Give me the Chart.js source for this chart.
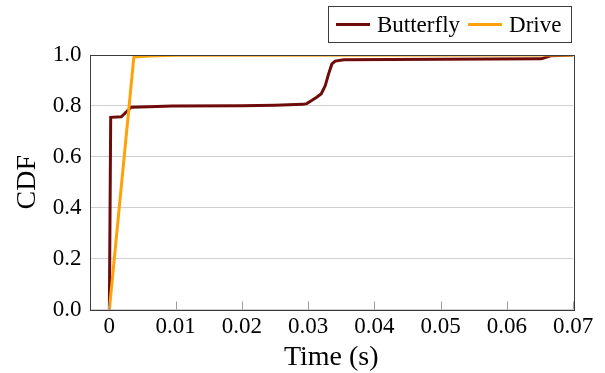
<!DOCTYPE html>
<html>
<head>
<meta charset="utf-8">
<script src="https://cdn.jsdelivr.net/npm/chart.js@4"></script>
<style>
  html, body { margin: 0; padding: 0; background: #fff; }
  canvas { display: block; }
</style>
</head>
<body>
<canvas id="graficoCdf" width="605" height="373"></canvas>
<script>
const tempoButterfly = [0, 0.0002, 0.0018, 0.0033, 0.006, 0.0095, 0.02, 0.025, 0.0292, 0.0298, 0.0306, 0.0313, 0.032, 0.0326, 0.0331, 0.0336, 0.0341, 0.0354, 0.0424, 0.0652, 0.0666, 0.07];
const cdfButterfly   = [0, 0.755, 0.757, 0.795, 0.797, 0.800, 0.801, 0.803, 0.806, 0.809, 0.822, 0.834, 0.848, 0.880, 0.926, 0.965, 0.976, 0.981, 0.982, 0.985, 0.997, 1.0];

const tempoDrive = [0, 0.0037, 0.006, 0.01, 0.07];
const cdfDrive   = [0, 0.992, 0.996, 0.999, 1.0];

const ticksX = [0, 0.01, 0.02, 0.03, 0.04, 0.05, 0.06, 0.07];
const ticksY = [0, 0.2, 0.4, 0.6, 0.8, 1.0];

const fonte = "'Liberation Serif', 'Times New Roman', serif";

function pontos(xs, ys) {
    return xs.map((x, i) => ({ x: x, y: ys[i] }));
}

// moldura do gráfico + marcas do eixo x para dentro
const moldura = {
    id: "moldura",
    afterDatasetsDraw(chart) {
        const { ctx, chartArea: a, scales } = chart;
        ctx.save();
        ctx.strokeStyle = "#9a9a9a";
        ctx.lineWidth = 1;
        ticksX.forEach(v => {
            const px = Math.round(scales.x.getPixelForValue(v)) + 0.5;
            ctx.beginPath();
            ctx.moveTo(px, a.bottom);
            ctx.lineTo(px, a.bottom - 8);
            ctx.stroke();
        });
        ctx.strokeStyle = "#3c3c3c";
        ctx.strokeRect(Math.round(a.left) + 0.5, Math.round(a.top) + 0.5,
            Math.round(a.right - a.left), Math.round(a.bottom - a.top));
        ctx.restore();
    }
};

// legenda com caixa no canto superior direito
const legendaCaixa = {
    id: "legendaCaixa",
    afterDraw(chart) {
        const ctx = chart.ctx;
        ctx.save();
        ctx.strokeStyle = "#3c3c3c";
        ctx.lineWidth = 1;
        ctx.strokeRect(328.5, 6.5, 243, 36);
        ctx.font = "23px " + fonte;
        ctx.fillStyle = "#000";
        ctx.textBaseline = "alphabetic";
        let x = 336;
        chart.data.datasets.forEach(ds => {
            ctx.strokeStyle = ds.borderColor;
            ctx.lineWidth = 3;
            ctx.beginPath();
            ctx.moveTo(x, 24.5);
            ctx.lineTo(x + 34, 24.5);
            ctx.stroke();
            ctx.fillText(ds.label, x + 41, 32);
            x += 41 + ctx.measureText(ds.label).width + 8;
        });
        ctx.restore();
    }
};

const ctx = document.getElementById("graficoCdf").getContext("2d");

new Chart(ctx, {
    type: "line",
    data: {
        datasets: [
            {
                label: "Butterfly",
                data: pontos(tempoButterfly, cdfButterfly),
                borderColor: "#6e0a0a",
                borderWidth: 3,
                pointRadius: 0,
                tension: 0,
                order: 2
            },
            {
                label: "Drive",
                data: pontos(tempoDrive, cdfDrive),
                borderColor: "#ffa20a",
                borderWidth: 3,
                pointRadius: 0,
                tension: 0,
                order: 1
            }
        ]
    },
    options: {
        responsive: false,
        animation: false,
        devicePixelRatio: 1,
        layout: { padding: { top: 55, right: 32, left: 0, bottom: 0 } },
        plugins: {
            legend: { display: false },
            tooltip: { enabled: false }
        },
        scales: {
            x: {
                type: "linear",
                min: -0.003,
                max: 0.07,
                afterBuildTicks: s => { s.ticks = ticksX.map(v => ({ value: v })); },
                afterFit: s => { s.height = 63.5; },
                grid: { display: false, drawTicks: false },
                border: { display: false },
                ticks: {
                    color: "#000",
                    padding: 4,
                    maxRotation: 0,
                    font: { family: fonte, size: 23 },
                    callback: v => String(v)
                },
                title: {
                    display: true,
                    text: "Time (s)",
                    color: "#000",
                    font: { family: fonte, size: 28, lineHeight: 1.0 },
                    padding: { top: 0, bottom: 1 }
                }
            },
            y: {
                min: 0,
                max: 1,
                afterBuildTicks: s => { s.ticks = ticksY.map(v => ({ value: v })); },
                afterFit: s => { s.width = 89.5; },
                grid: { color: "#cfcfcf", lineWidth: 1, drawTicks: false },
                border: { display: false },
                ticks: {
                    color: "#000",
                    padding: 8,
                    font: { family: fonte, size: 23 },
                    callback: v => v.toFixed(1)
                },
                title: {
                    display: true,
                    text: "CDF",
                    color: "#000",
                    font: { family: fonte, size: 28 },
                    padding: { top: 11, bottom: 0 }
                }
            }
        }
    },
    plugins: [moldura, legendaCaixa]
});
</script>
</body>
</html>
